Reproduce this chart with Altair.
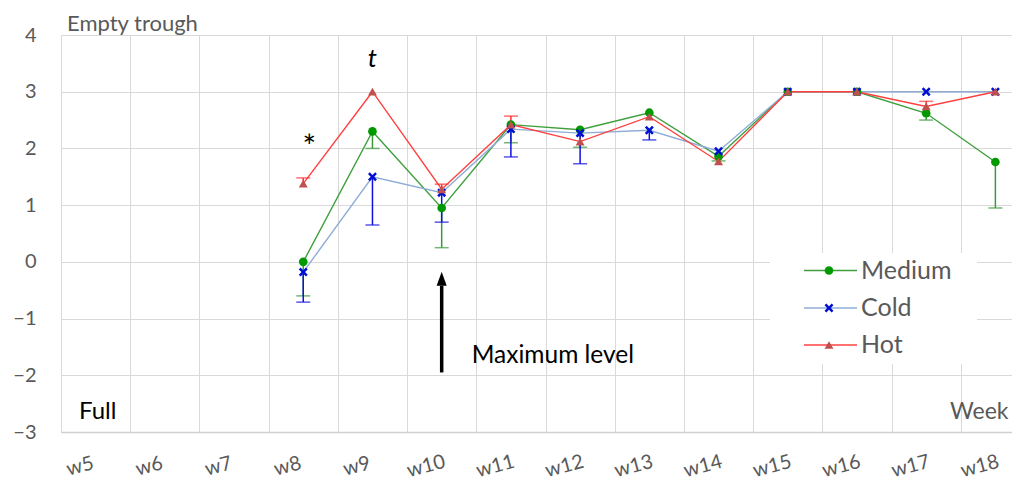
import altair as alt
import pandas as pd

weeks = ["w5", "w6", "w7", "w8", "w9", "w10", "w11", "w12", "w13", "w14", "w15", "w16", "w17", "w18"]
series = ["Medium", "Cold", "Hot"]

medium = [None, None, None, 0.0, 2.3, 0.95, 2.42, 2.33, 2.63, 1.86, 3.0, 3.0, 2.62, 1.76]
cold = [None, None, None, -0.18, 1.5, 1.22, 2.34, 2.27, 2.32, 1.95, 3.0, 3.0, 3.0, 3.0]
hot = [None, None, None, 1.38, 3.0, 1.28, 2.42, 2.12, 2.56, 1.77, 3.0, 3.0, 2.74, 3.0]

medium_err = [None, None, None, -0.6, 2.0, 0.25, 2.1, 2.02, None, 1.78, None, None, 2.5, 0.95]
cold_err = [None, None, None, -0.71, 0.65, 0.7, 1.85, 1.73, 2.15, None, None, None, None, None]
hot_err = [None, None, None, 1.48, None, 1.37, 2.57, None, None, None, None, None, 2.83, None]

line_colors = ["#3f9f3f", "#8eacd6", "#ff4040"]
marker_colors = ["#009a00", "#0010d0", "#c0504d"]
err_colors = ["#3a9a3a", "#1010e0", "#ff3030"]
XSHAPE = "M-1,-0.6L-0.6,-1L0,-0.4L0.6,-1L1,-0.6L0.4,0L1,0.6L0.6,1L0,0.4L-0.6,1L-1,0.6L-0.4,0Z"
shapes = ["circle", XSHAPE, "triangle-up"]
sizes = [75, 80, 80]

FONT = "Lato"
GRAY = "#595959"

xscale = alt.Scale(domain=weeks, paddingInner=0, paddingOuter=0, range=[0, 969])
yscale = alt.Scale(domain=[-3, 4], nice=False)

xaxis = alt.Axis(title=None, tickBand="extent", ticks=False, grid=True,
                 gridColor="#d9d9d9", domainColor="#d0d0d0", domainWidth=1.5,
                 labelAngle=345, labelFontSize=20, labelColor=GRAY, labelFont=FONT,
                 labelPadding=34, labelOffset=-16, labelBaseline="middle", labelAlign="center")
yaxis = alt.Axis(title=None, values=[-3, -2, -1, 0, 1, 2, 3, 4], format="d", grid=True,
                 gridColor="#d9d9d9", domain=False, ticks=False, labelFontSize=20,
                 labelColor=GRAY, labelFont=FONT, labelPadding=25)

X = lambda: alt.X("week:N", sort=weeks, scale=xscale, axis=xaxis)

layers = []
for i, (s, vals, errs) in enumerate(zip(series, [medium, cold, hot], [medium_err, cold_err, hot_err])):
    d = pd.DataFrame({"week": weeks, "value": vals, "err": errs}).dropna(subset=["value"])
    de = d.dropna(subset=["err"])
    layers.append(alt.Chart(d).mark_line(strokeWidth=1.4, color=line_colors[i]).encode(
        x=X(), y=alt.Y("value:Q", scale=yscale, axis=yaxis)))
    layers.append(alt.Chart(de).mark_rule(strokeWidth=1.5, color=err_colors[i]).encode(
        x=X(), y=alt.Y("value:Q", scale=yscale, axis=yaxis), y2="err:Q"))
    layers.append(alt.Chart(de).mark_tick(thickness=1.5, size=14, color=err_colors[i]).encode(
        x=X(), y=alt.Y("err:Q", scale=yscale, axis=yaxis)))
for i, (s, vals) in enumerate(zip(series, [medium, cold, hot])):
    d = pd.DataFrame({"week": weeks, "value": vals}).dropna(subset=["value"])
    layers.append(alt.Chart(d).mark_point(shape=shapes[i], filled=True, size=sizes[i], opacity=1,
                                          color=marker_colors[i]).encode(
        x=X(), y=alt.Y("value:Q", scale=yscale, axis=yaxis)))

# annotations in data coordinates
stardf = pd.DataFrame([{"week": "w8", "value": 2.0, "text": "*"}])
layers.append(alt.Chart(stardf).mark_text(fontSize=32, font=FONT, color="black", dx=6).encode(
    x=X(), y=alt.Y("value:Q", scale=yscale, axis=yaxis), text="text:N"))
tdf = pd.DataFrame([{"week": "w9", "value": 3.58, "text": "t"}])
layers.append(alt.Chart(tdf).mark_text(fontSize=26, font=FONT, fontStyle="italic", color="black").encode(
    x=X(), y=alt.Y("value:Q", scale=yscale, axis=yaxis), text="text:N"))

arrow_df = pd.DataFrame([{"week": "w10", "y0": -1.95, "y1": -0.42}])
layers.append(alt.Chart(arrow_df).mark_rule(strokeWidth=3.5, color="black").encode(
    x=X(), y=alt.Y("y0:Q", scale=yscale, axis=yaxis), y2="y1:Q"))
layers.append(alt.Chart(arrow_df).mark_point(shape="M0,-1L0.36,0L-0.36,0Z", size=784, filled=True,
                                             color="black", opacity=1).encode(
    x=X(), y=alt.Y("y1:Q", scale=yscale, axis=yaxis)))
maxdf = pd.DataFrame([{"week": "w10", "value": -1.78, "text": "Maximum level"}])
layers.append(alt.Chart(maxdf).mark_text(fontSize=24.5, font=FONT, color="black", align="left",
                                         baseline="alphabetic", dx=30).encode(
    x=X(), y=alt.Y("value:Q", scale=yscale, axis=yaxis), text="text:N"))

one = pd.DataFrame({"a": [0]})
layers += [
    alt.Chart(one).mark_text(fontSize=22, font=FONT, color=GRAY, align="left", baseline="alphabetic").encode(
        x=alt.value(6), y=alt.value(-4), text=alt.value("Empty trough")),
    alt.Chart(one).mark_text(fontSize=24, font=FONT, color="black", align="left", baseline="alphabetic").encode(
        x=alt.value(18), y=alt.value(384), text=alt.value("Full")),
    alt.Chart(one).mark_text(fontSize=23, font=FONT, color=GRAY, align="left", baseline="alphabetic").encode(
        x=alt.value(889), y=alt.value(384), text=alt.value("Week")),
]

# legend
layers.append(alt.Chart(one).mark_rect(color="white").encode(
    x=alt.value(709), x2=alt.value(916), y=alt.value(218), y2=alt.value(329)))
leg_y = [235.5, 273, 310]
leg_base = [244, 281, 318]
for i, s in enumerate(series):
    layers.append(alt.Chart(one).mark_rule(color=line_colors[i], strokeWidth=1.4).encode(
        x=alt.value(743), x2=alt.value(796), y=alt.value(leg_y[i])))
    layers.append(alt.Chart(one).mark_point(shape=shapes[i], filled=True, size=sizes[i], opacity=1,
                                            color=marker_colors[i]).encode(
        x=alt.value(768), y=alt.value(leg_y[i])))
    layers.append(alt.Chart(one).mark_text(fontSize=25, font=FONT, color=GRAY, align="left",
                                           baseline="alphabetic").encode(
        x=alt.value(800), y=alt.value(leg_base[i]), text=alt.value(s)))

chart = alt.layer(*layers).properties(
    width=951, height=397, autosize="none",
    padding={"left": 53, "top": 27, "right": 0, "bottom": 52},
).configure_view(stroke=None).configure(font=FONT)

chart.save("out.html", embed_options={"renderer": "svg", "actions": False})
